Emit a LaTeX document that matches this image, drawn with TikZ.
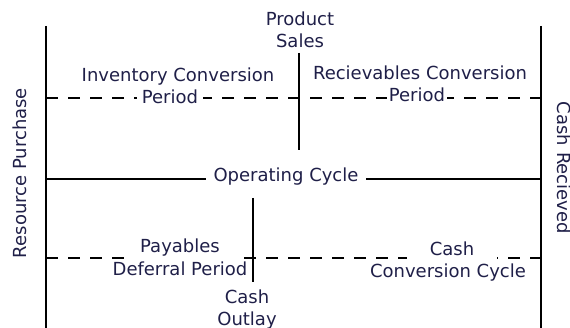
\documentclass[tikz,border=0pt]{standalone}
\usepackage{fontspec}
\setmainfont{DejaVu Sans}
\usepackage{tikz}
\definecolor{txt}{HTML}{1F1F48}
\tikzstyle{bar} = [line width=2.6pt]
\tikzstyle{dashBar} = [line width=2.6pt, dash pattern=on 12pt off 10pt]
\tikzstyle{lbl} = [text=txt, inner sep=0pt, align=center, anchor=base, font=\fontsize{18}{22}\selectfont]
\tikzstyle{gapLbl} = [lbl, fill=white, inner xsep=5pt, inner ysep=4pt]

\begin{document}
\begin{tikzpicture}[x=1pt, y=-1pt]
		\useasboundingbox (0,0) rectangle (570,328);
		% ends of the bars and cross lines
		\coordinate (rpTop) at (46,26);
		\coordinate (rpBot) at (46,332);
		\coordinate (crTop) at (541,26);
		\coordinate (crBot) at (541,332);
		\coordinate (icpL) at (46,98);
		\coordinate (rcpR) at (541,98);
		\coordinate (ocL) at (46,179);
		\coordinate (ocR) at (541,179);
		\coordinate (ccL) at (46,258);
		\coordinate (ccR) at (541,258);
		\coordinate (psTop) at (299,53);
		\coordinate (psBot) at (299,150);
		\coordinate (coTop) at (253,198);
		\coordinate (coBot) at (253,282);
		\draw [dashBar] (icpL) -- (rcpR);
		\draw [dashBar] (ccL) -- (ccR);
		\draw [bar] (ocL) -- (ocR);
		% texts, the filled ones break the lines
		\node (product) [lbl, anchor=center] at (300,30) {Product\\Sales};
		\node (inventory) [lbl] at (178,82) {Inventory Conversion};
		\node (invPeriod) [gapLbl] at (170,104) {Period};
		\node (recievables) [lbl] at (420,80) {Recievables Conversion};
		\node (recPeriod) [gapLbl, inner xsep=2pt] at (417,102) {Period};
		\node (operating) [gapLbl, inner xsep=8pt] at (286,182) {Operating Cycle};
		\node (payables) [gapLbl, minimum width=112pt] at (180,253) {Payables};
		\node (deferral) [lbl] at (180,276) {Deferral Period};
		\node (cash) [gapLbl, minimum width=90pt] at (452,256) {Cash};
		\node (conversion) [lbl] at (448,278) {Conversion Cycle};
		\node (outlay) [lbl, anchor=center] at (247,310) {Cash\\Outlay};
		\node (resource) [lbl, anchor=center, rotate=90] at (20,173) {Resource Purchase};
		\node (recieved) [lbl, anchor=center, rotate=-90] at (564,168) {Cash Recieved};
		\draw [bar] (rpTop) -- (rpBot);
		\draw [bar] (crTop) -- (crBot);
		\draw [bar] (psTop) -- (psBot);
		\draw [bar] (coTop) -- (coBot);
	\end{tikzpicture}
\end{document}
